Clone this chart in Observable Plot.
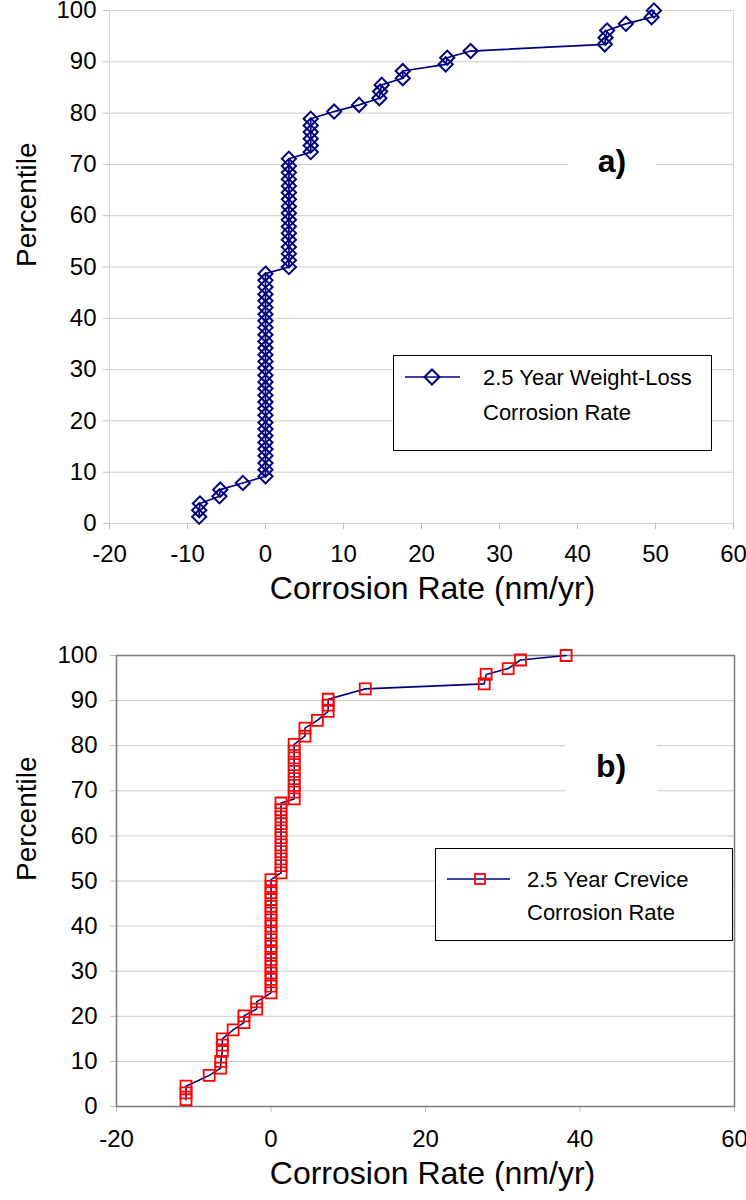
<!DOCTYPE html>
<html>
<head>
<meta charset="utf-8">
<script src="https://cdn.jsdelivr.net/npm/d3@7"></script>
<script src="https://cdn.jsdelivr.net/npm/@observablehq/plot@0.6"></script>
<style>
  body { margin: 0; background: #fff; }
  #wrap { position: relative; width: 746px; height: 1200px; overflow: hidden; font-family: "Liberation Sans", Arial, sans-serif; }
  .panel { position: absolute; left: 0; }
  .tag { position: absolute; background: #fff; font-weight: bold; font-size: 32px; display: flex; align-items: center; justify-content: center; }
  .legend { position: absolute; }
</style>
</head>
<body>
<div id="wrap">
  <div id="pa" class="panel" style="top:0"></div>
  <div id="pb" class="panel" style="top:620px"></div>
  <div class="tag" style="left:568px;top:122px;width:88px;height:78px">a)</div>
  <div class="tag" style="left:565px;top:726px;width:92px;height:80px">b)</div>
  <svg class="legend" style="left:393px;top:355px" width="319" height="96">
    <rect x="0.5" y="0.5" width="318" height="95" fill="#fff" stroke="#000" stroke-width="1"/>
    <line x1="12" x2="67" y1="22" y2="22" stroke="#000080" stroke-width="1.6"/>
    <path d="M39,14.5L46.5,22L39,29.5L31.5,22Z" fill="none" stroke="#000080" stroke-width="2"/>
    <text x="90" y="30" font-size="22" fill="#000">2.5 Year Weight-Loss</text>
    <text x="90" y="65" font-size="22" fill="#000">Corrosion Rate</text>
  </svg>
  <svg class="legend" style="left:435px;top:848px" width="298" height="93">
    <rect x="0.5" y="0.5" width="297" height="92" fill="#fff" stroke="#000" stroke-width="1"/>
    <line x1="12" x2="75" y1="31" y2="31" stroke="#000080" stroke-width="1.6"/>
    <rect x="40" y="26" width="10" height="10" fill="none" stroke="#ff0000" stroke-width="1.8"/>
    <text x="92" y="39" font-size="22" fill="#000">2.5 Year Crevice</text>
    <text x="92" y="72" font-size="22" fill="#000">Corrosion Rate</text>
  </svg>
</div>
<script>
// ---- Panel a: 2.5 year weight-loss corrosion rate (nm/yr) vs percentile ----
const rateA = [
  -8.5, -8.5, -8.4, -5.9, -5.8, -2.9,
  0, 0, 0, 0, 0, 0, 0, 0, 0, 0, 0, 0, 0, 0, 0, 0,
  0, 0, 0, 0, 0, 0, 0, 0, 0, 0, 0, 0, 0, 0, 0,
  3.0, 3.0, 3.0, 3.0, 3.0, 3.0, 3.0, 3.0, 3.0, 3.0, 3.0, 3.0, 3.0, 3.0, 3.0, 3.0, 3.0,
  5.8, 5.8, 5.8, 5.8, 5.8, 5.8,
  8.8, 12.0, 14.6, 14.7, 14.9, 17.6, 17.6, 23.1, 23.3, 26.3,
  43.5, 43.6, 43.8, 46.2, 49.5, 49.8
];
const pctA = [
  1.3, 2.6, 3.9, 5.3, 6.6, 7.9,
  9.2, 10.5, 11.8, 13.2, 14.5, 15.8, 17.1, 18.4, 19.7, 21.1, 22.4, 23.7, 25.0, 26.3, 27.6, 28.9,
  30.3, 31.6, 32.9, 34.2, 35.5, 36.8, 38.2, 39.5, 40.8, 42.1, 43.4, 44.7, 46.1, 47.4, 48.7,
  50.0, 51.3, 52.6, 53.9, 55.3, 56.6, 57.9, 59.2, 60.5, 61.8, 63.2, 64.5, 65.8, 67.1, 68.4, 69.7, 71.1,
  72.4, 73.7, 75.0, 76.3, 77.6, 78.9,
  80.3, 81.6, 82.9, 84.2, 85.5, 86.8, 88.2, 89.5, 90.8, 92.1,
  93.4, 94.7, 96.1, 97.4, 98.7, 100.0
];

// ---- Panel b: 2.5 year crevice corrosion rate (nm/yr) vs percentile ----
const rateB = [
  -11.0, -11.0, -11.0, -8.0, -6.5, -6.5, -6.3, -6.3, -6.3, -4.9, -3.5, -3.5, -1.85, -1.85,
  0, 0, 0, 0, 0, 0, 0, 0, 0, 0, 0, 0, 0, 0, 0, 0, 0, 0,
  1.3, 1.3, 1.3, 1.3, 1.3, 1.3, 1.3, 1.3, 1.3, 1.3, 1.3,
  3.0, 3.0, 3.0, 3.0, 3.0, 3.0, 3.0, 3.0, 3.0,
  4.4, 4.4, 6.0, 7.4, 7.4, 7.4,
  12.2, 27.6, 27.85, 30.7, 32.3, 38.2
];
const pctB = [
  1.5, 3.0, 4.5, 6.9, 8.5, 10.0, 12.2, 13.6, 15.0, 17.0, 18.6, 20.1, 21.6, 23.2,
  25.2, 26.7, 28.2, 29.6, 31.1, 32.6, 34.1, 35.5, 37.0, 38.5, 40.0, 41.4, 42.9, 44.4, 45.9, 47.4, 48.8, 50.3,
  51.8, 53.4, 54.9, 56.5, 58.0, 59.6, 61.1, 62.7, 64.2, 65.8, 67.3,
  68.2, 69.7, 71.2, 72.7, 74.3, 75.8, 77.3, 78.8, 80.3,
  82.1, 83.9, 85.6, 87.6, 89.0, 90.3,
  92.6, 93.7, 95.8, 97.1, 99.0, 100.0
];

const yTicks = [0, 10, 20, 30, 40, 50, 60, 70, 80, 90, 100];
const xTicksA = [-20, -10, 0, 10, 20, 30, 40, 50, 60];
const xTicksB = [-20, 0, 20, 40, 60];
const xTitle = "Corrosion Rate (nm/yr)";
const yTitle = "Percentile";

const dataA = rateA.map((r, i) => ({rate: r, pct: pctA[i]}));
const dataB = rateB.map((r, i) => ({rate: r, pct: pctB[i]}));

const fmt = d => String(d);
const fontStyle = {fontFamily: "'Liberation Sans', Arial, sans-serif", fontSize: "24px", color: "#000", background: "transparent", overflow: "visible"};

const chartA = Plot.plot({
  width: 746, height: 620,
  marginTop: 10, marginBottom: 97, marginLeft: 109, marginRight: 13,
  style: fontStyle,
  x: {domain: [-20, 60], label: null},
  y: {domain: [0, 100], label: null},
  marks: [
    Plot.gridY(yTicks, {stroke: "#cccccc", strokeOpacity: 1}),
    Plot.frame({stroke: "#d6d6d6"}),
    Plot.axisX(xTicksA, {tickSize: 6, tickPadding: 15, stroke: "#c0c0c0", fill: "#000", tickFormat: fmt, label: null}),
    Plot.axisY(yTicks, {tickSize: 6, tickPadding: 7, stroke: "#c0c0c0", fill: "#000", tickFormat: fmt, label: null}),
    Plot.line(dataA, {x: "rate", y: "pct", stroke: "#000080", strokeWidth: 1.7}),
    Plot.dot(dataA, {x: "rate", y: "pct", symbol: "diamond2", r: 6.4, stroke: "#000080", strokeWidth: 2, fill: "none"}),
    Plot.text([xTitle], {frameAnchor: "bottom", dy: 75, dx: 11, fontSize: 32, fill: "#000"}),
    Plot.text([yTitle], {frameAnchor: "left", rotate: -90, dx: -82, fontSize: 28, fill: "#000"})
  ]
});
document.getElementById("pa").appendChild(chartA);

const chartB = Plot.plot({
  width: 746, height: 580,
  marginTop: 35, marginBottom: 94, marginLeft: 116, marginRight: 12,
  style: fontStyle,
  x: {domain: [-20, 60], label: null},
  y: {domain: [0, 100], label: null},
  marks: [
    Plot.gridY(yTicks, {stroke: "#cccccc", strokeOpacity: 1}),
    Plot.axisX(xTicksB, {tickSize: 6, tickPadding: 17, stroke: "#c0c0c0", fill: "#000", tickFormat: fmt, label: null}),
    Plot.axisY(yTicks, {tickSize: 6, tickPadding: 13, stroke: "#c0c0c0", fill: "#000", tickFormat: fmt, label: null}),
    Plot.frame({stroke: "#808080", strokeWidth: 1.6}),
    Plot.line(dataB, {x: "rate", y: "pct", stroke: "#000080", strokeWidth: 1.6}),
    Plot.dot(dataB, {x: "rate", y: "pct", symbol: "square", r: 6.2, stroke: "#ff0000", strokeWidth: 1.8, fill: "none"}),
    Plot.text([xTitle], {frameAnchor: "bottom", dy: 77, dx: 7, fontSize: 32, fill: "#000"}),
    Plot.text([yTitle], {frameAnchor: "left", rotate: -90, dx: -89, fontSize: 28, fill: "#000"})
  ]
});
document.getElementById("pb").appendChild(chartB);
</script>
</body>
</html>
